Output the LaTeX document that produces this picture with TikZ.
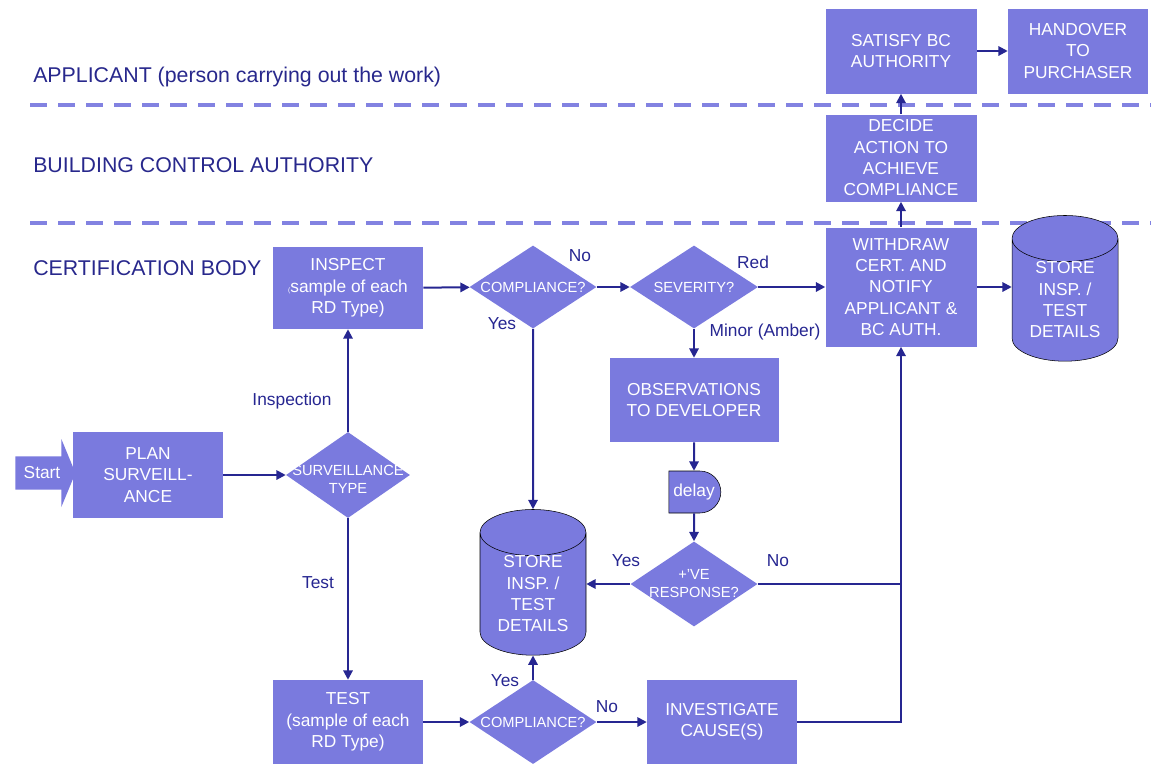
\documentclass[tikz,border=0pt]{standalone}
\usepackage{fontspec}
\setmainfont{Liberation Sans}
\usetikzlibrary{shapes.geometric, shapes.misc, shapes.arrows, arrows.meta, positioning}

\definecolor{boxfill}{RGB}{122,122,222}
\definecolor{linecol}{RGB}{38,38,145}
\definecolor{lanecol}{RGB}{40,40,140}
\definecolor{dashcol}{RGB}{130,130,225}
\def\px{0.75pt}

\begin{document}
\begin{tikzpicture}[x=0.75pt, y=-0.75pt,
    box/.style={fill=boxfill, text=white, align=center, inner sep=0,
        font=\fontsize{13}{16}\selectfont},
    dec/.style={diamond, fill=boxfill, inner sep=0},
    dtext/.style={text=white, align=center, font=\fontsize{11}{13.5}\selectfont},
    store/.style={cylinder, shape border rotate=90, draw=black, fill=boxfill,
        aspect=0.65, inner sep=0, text=white, align=center,
        minimum width=106*\px, minimum height=113*\px,
        font=\fontsize{13}{16}\selectfont},
    flow/.style={draw=linecol, line width=1.5pt, -{Triangle[length=7pt,width=7pt]}},
    lbl/.style={text=linecol, font=\fontsize{13}{15}\selectfont},
    lane/.style={text=lanecol, anchor=west, inner sep=0, font=\fontsize{16}{18}\selectfont},
    lanesep/.style={draw=dashcol, line width=3pt, dash pattern=on 13pt off 8pt}]
    \useasboundingbox (0,0) rectangle (1151,764);

    % swim lanes
    \draw[lanesep] (30,105) -- (1151,105);
    \draw[lanesep] (30,223) -- (1151,223);
    \node[lane] (laneapp) at (33,77) {APPLICANT (person carrying out the work)};
    \node[lane] (lanebca) at (33,165) {BUILDING CONTROL AUTHORITY};
    \node[lane] (lanecb) at (33,268) {CERTIFICATION BODY};

    % nodes
    \node[single arrow, fill=boxfill, text=white, inner xsep=0, inner ysep=7pt,
        minimum height=60*\px, minimum width=68*\px,
        single arrow head extend=16.5*\px, single arrow tip angle=135,
        font=\fontsize{13}{15}\selectfont] (start) at (42,473) {Start};
    \node[box, minimum width=150*\px, minimum height=86*\px] (plan) at (148,475) {PLAN\\SURVEILL-\\ANCE};
    \node[dec, minimum width=124*\px, minimum height=86*\px,
        label={[dtext, yshift=-3pt]center:SURVEILLANCE\\TYPE}] (stype) at (348,475) {};
    \node[box, minimum width=150*\px, minimum height=82*\px] (insp) at (348,288) {INSPECT\\{\tiny(}sample of each\\RD Type)};
    \node[box, minimum width=150*\px, minimum height=84*\px] (test) at (348,722) {TEST\\(sample of each\\RD Type)};
    \node[dec, minimum width=127*\px, minimum height=83*\px,
        label={[dtext]center:COMPLIANCE?}] (comp1) at (533,287) {};
    \node[dec, minimum width=128*\px, minimum height=83*\px,
        label={[dtext]center:SEVERITY?}] (sev) at (694,287) {};
    \node[box, minimum width=151*\px, minimum height=119*\px] (withdraw) at (901,287) {WITHDRAW\\CERT. AND\\NOTIFY\\APPLICANT \&\\BC AUTH.};
    \node[store] (store2) at (1065,300) {STORE\\INSP. /\\TEST\\DETAILS};
    \node[box, minimum width=151*\px, minimum height=87*\px] (decide) at (901,158) {DECIDE\\ACTION TO\\ACHIEVE\\COMPLIANCE};
    \node[box, minimum width=151*\px, minimum height=85*\px] (satisfy) at (901,51) {SATISFY BC\\AUTHORITY};
    \node[box, minimum width=140*\px, minimum height=85*\px] (hand) at (1078,51) {HANDOVER\\TO\\PURCHASER};
    \node[box, minimum width=169*\px, minimum height=84*\px] (obs) at (694,400) {OBSERVATIONS\\TO DEVELOPER};
    \node[rounded rectangle, rounded rectangle left arc=none, draw=black, fill=boxfill,
        minimum width=52*\px, minimum height=42*\px, inner sep=0, text=white,
        font=\fontsize{13}{15}\selectfont] (delay) at (694,492) {delay};
    \node[dec, minimum width=127*\px, minimum height=85*\px,
        label={[dtext]center:+'VE\\RESPONSE?}] (resp) at (694,584) {};
    \node[store, minimum height=115*\px] (store1) at (533,594) {STORE\\INSP. /\\TEST\\DETAILS};
    \node[dec, minimum width=127*\px, minimum height=84*\px,
        label={[dtext]center:COMPLIANCE?}] (comp2) at (533,722) {};
    \node[box, minimum width=150*\px, minimum height=84*\px] (invest) at (722,722) {INVESTIGATE\\CAUSE(S)};

    % connectors
    \draw[flow] (plan) -- (stype);
    \draw[flow] (stype) -- (insp);
    \draw[flow] (stype) -- (test);
    \draw[flow] (insp) -- (comp1);
    \draw[flow] (comp1) -- (sev);
    \draw[flow] (comp1) -- (store1);
    \draw[flow] (sev) -- (withdraw);
    \draw[flow] (sev) -- (obs);
    \draw[flow] (obs) -- (delay);
    \draw[flow] (delay) -- (resp);
    \draw[flow] (resp.west) -- (resp.west -| store1.east);
    \draw[flow] (test) -- (comp2);
    \draw[flow] (comp2) -- (store1);
    \draw[flow] (comp2) -- (invest);
    \draw[flow] (invest.east) -| (withdraw.south);
    \draw[flow, -] (resp.east) -- (resp.east -| withdraw.south);
    \draw[flow] (withdraw.east) -- (withdraw.east -| store2.west);
    \draw[flow] (withdraw) -- (decide);
    \draw[flow] (decide) -- (satisfy);
    \draw[flow] (satisfy) -- (hand);

    % branch labels
    \node[lbl] (linsp) at (292,401) {Inspection};
    \node[lbl] (ltest) at (318,583) {Test};
    \node[lbl] (lno1) at (580,256) {No};
    \node[lbl] (lyes1) at (502,324) {Yes};
    \node[lbl] (lred) at (753,262) {Red};
    \node[lbl] (lminor) at (765,332) {Minor (Amber)};
    \node[lbl] (lyes2) at (626,561) {Yes};
    \node[lbl] (lno2) at (778,561) {No};
    \node[lbl] (lyes3) at (505,681) {Yes};
    \node[lbl] (lno3) at (607,707) {No};
\end{tikzpicture}
\end{document}
